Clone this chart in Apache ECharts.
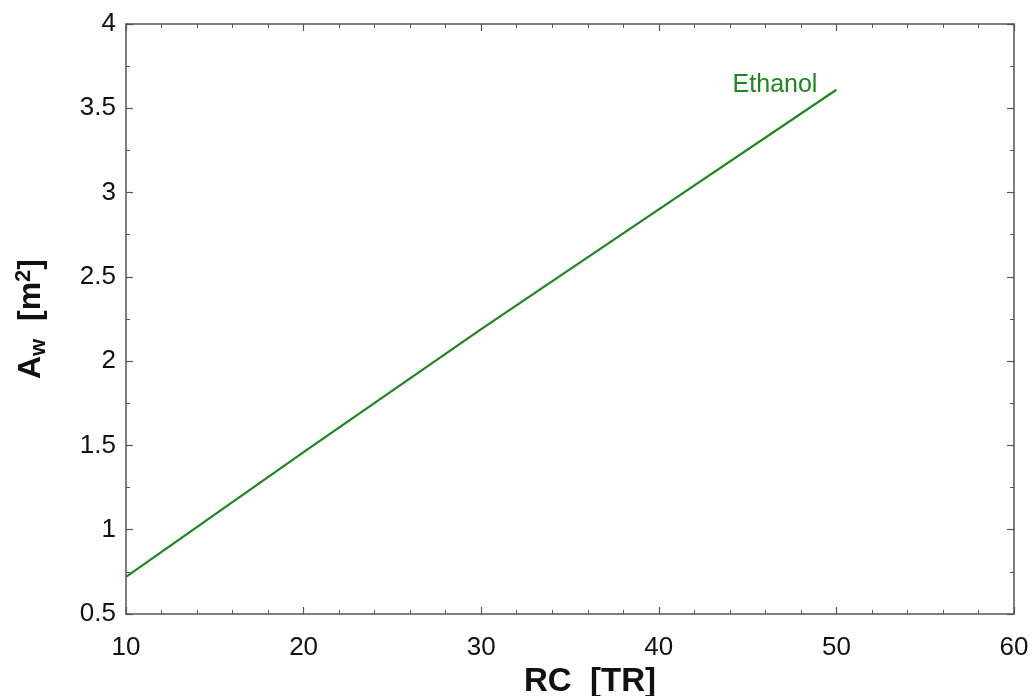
<!DOCTYPE html>
<html>
<head>
<meta charset="utf-8">
<script src="https://cdn.jsdelivr.net/npm/echarts@6/dist/echarts.min.js"></script>
<style>
  html, body { margin: 0; padding: 0; background: #fff; }
  #chart { width: 1035px; height: 696px; }
</style>
</head>
<body>
<div id="chart"></div>
<script>
// Refrigeration capacity [TR] and required area A_w [m²] for ethanol
const rcValues = [10, 20, 30, 40, 50];
const awEthanol = [0.72, 1.46, 2.19, 2.90, 3.61];
const seriesName = 'Ethanol';

const axisColor = '#555555';
const lineColor = '#1e861e';
const font = 'Liberation Sans, Arial, sans-serif';

const chart = echarts.init(document.getElementById('chart'));

function frameAxis(extra) {
  return Object.assign({
    axisLine: { show: true, onZero: false, lineStyle: { color: axisColor, width: 1.5 } },
    axisTick: { show: true, inside: true, length: 7, lineStyle: { color: axisColor, width: 1.2 } },
    splitLine: { show: false },
    minorSplitLine: { show: false }
  }, extra);
}

const lastIdx = rcValues.length - 1;

chart.setOption({
  animation: false,
  backgroundColor: '#ffffff',
  grid: { left: 126, right: 21, top: 24, bottom: 82, containLabel: false, outerBoundsMode: 'none' },
  xAxis: [
    frameAxis({
      type: 'value', min: 10, max: 60, interval: 10, position: 'bottom',
      minorTick: { show: true, splitNumber: 5, length: 4, lineStyle: { color: axisColor, width: 1 } },
      axisLabel: { color: '#111', fontFamily: font, fontSize: 26, margin: 21 },
      name: 'RC  [TR]', nameLocation: 'middle', nameGap: 46,
      nameTextStyle: { color: '#111', fontFamily: font, fontSize: 33, fontWeight: 'bold', padding: [0, 0, 0, 40] }
    }),
    frameAxis({
      type: 'value', min: 10, max: 60, interval: 10, position: 'top',
      minorTick: { show: true, splitNumber: 5, length: 4, lineStyle: { color: axisColor, width: 1 } },
      axisLabel: { show: false }
    })
  ],
  yAxis: [
    frameAxis({
      type: 'value', min: 0.5, max: 4, interval: 0.5, position: 'left',
      minorTick: { show: true, splitNumber: 2, length: 4, lineStyle: { color: axisColor, width: 1 } },
      axisLabel: { color: '#111', fontFamily: font, fontSize: 26, margin: 10 },
      name: '{b|A}{sub|w}{b|  [m}{sup|2}{b|]}', nameLocation: 'middle', nameGap: 76, nameRotate: 90,
      nameTextStyle: {
        rich: {
          b: { fontFamily: font, fontSize: 32, fontWeight: 'bold', color: '#111' },
          sub: { fontFamily: font, fontSize: 22, fontWeight: 'bold', color: '#111', verticalAlign: 'bottom', padding: [15, 0, 0, 0] },
          sup: { fontFamily: font, fontSize: 22, fontWeight: 'bold', color: '#111', verticalAlign: 'top', padding: [0, 0, 15, 0] }
        }
      }
    }),
    frameAxis({
      type: 'value', min: 0.5, max: 4, interval: 0.5, position: 'right',
      minorTick: { show: true, splitNumber: 2, length: 4, lineStyle: { color: axisColor, width: 1 } },
      axisLabel: { show: false }
    })
  ],
  series: [{
    name: seriesName,
    type: 'line',
    xAxisIndex: 0,
    yAxisIndex: 0,
    data: rcValues.map((x, i) => [x, awEthanol[i]]),
    symbol: 'none',
    lineStyle: { color: lineColor, width: 2.2 },
    markPoint: {
      symbol: 'circle',
      symbolSize: 0,
      data: [{ coord: [rcValues[lastIdx], awEthanol[lastIdx]] }],
      label: {
        show: true,
        formatter: seriesName,
        position: 'left',
        distance: 19,
        offset: [0, -5],
        color: lineColor,
        fontFamily: font,
        fontSize: 25
      }
    }
  }]
});
</script>
</body>
</html>
